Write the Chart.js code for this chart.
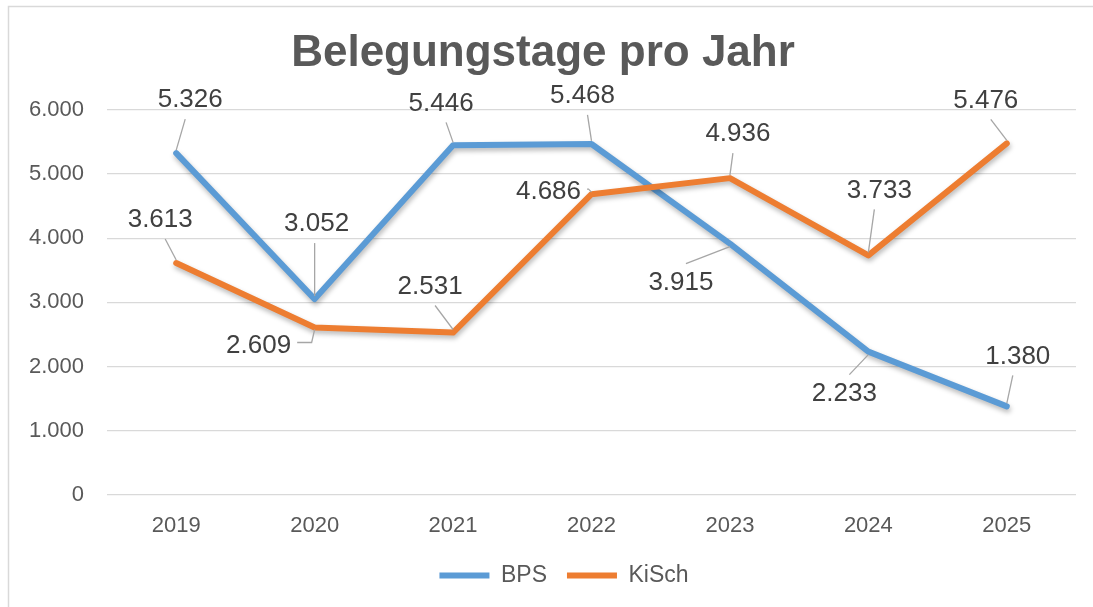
<!DOCTYPE html>
<html>
<head>
<meta charset="utf-8">
<script src="https://cdn.jsdelivr.net/npm/chart.js@4"></script>
<style>
  html, body { margin: 0; padding: 0; background: #fff; }
  #wrap { width: 1093px; height: 607px; }
</style>
</head>
<body>
<div id="wrap"><canvas id="lineChart" width="1093" height="607"></canvas></div>
<script>
// datos
const years = ["2019", "2020", "2021", "2022", "2023", "2024", "2025"];
const bps = [5326, 3052, 5446, 5468, 3915, 2233, 1380];
const kisch = [3613, 2609, 2531, 4686, 4936, 3733, 5476];
const yTicks = [0, 1000, 2000, 3000, 4000, 5000, 6000];

// where each value label sits, relative to its point (px)
const bpsLabelOffset = [[14, -53], [2, -75], [-12, -42], [-9, -48], [-49, 39], [-24, 42], [11, -50]];
const kischLabelOffset = [[-16, -43], [-56, 18], [-23, -46], [-43, -2], [8, -44], [11, -65], [-21, -43]];

const fmt = v => String(v).replace(/\B(?=(\d{3})+(?!\d))/g, '.');
const FONT = "'Liberation Sans', Arial, sans-serif";

// frame round the chart
const frame = {
  id: 'frame',
  beforeDraw(chart) {
    const c = chart.ctx;
    c.save();
    c.strokeStyle = '#d9d9d9';
    c.lineWidth = 1.5;
    c.beginPath();
    c.moveTo(8.5, 700);
    c.lineTo(8.5, 6.5);
    c.lineTo(1093, 6.5);
    c.stroke();
    c.restore();
  },
  afterLayout(chart) {
    // legend sits a little right of centre
    chart.legend.left += 21;
    chart.legend.right += 21;
  }
};

// soft shadow under the lines
const shadow = {
  id: 'shadow',
  beforeDatasetDraw(chart) {
    const c = chart.ctx;
    c.save();
    c.shadowColor = 'rgba(0,0,0,0.28)';
    c.shadowBlur = 5;
    c.shadowOffsetX = 1;
    c.shadowOffsetY = 3;
  },
  afterDatasetDraw(chart) {
    chart.ctx.restore();
  }
};

// value labels with leader lines
const valueLabels = {
  id: 'valueLabels',
  afterDatasetsDraw(chart) {
    const c = chart.ctx;
    c.save();
    c.font = '26px ' + FONT;
    c.textAlign = 'center';
    c.textBaseline = 'middle';
    chart.data.datasets.forEach((ds, di) => {
      const meta = chart.getDatasetMeta(di);
      const offs = ds.labelOffset;
      meta.data.forEach((pt, i) => {
        const lx = pt.x + offs[i][0];
        const ly = pt.y + offs[i][1];
        const txt = fmt(ds.data[i]);
        const w = c.measureText(txt).width;
        c.strokeStyle = '#a6a6a6';
        c.lineWidth = 1.3;
        c.beginPath();
        if (Math.abs(offs[i][1]) < 25) {
          // bent leader beside the label
          const sx = lx + (offs[i][0] < 0 ? 1 : -1) * (w / 2 + 6);
          const ex = pt.x + (offs[i][0] < 0 ? -3 : 3);
          c.moveTo(sx, ly - 3);
          c.lineTo(ex, ly - 3);
          c.lineTo(pt.x, pt.y + (offs[i][1] > 0 ? 2 : -2));
        } else {
          const dir = offs[i][1] < 0 ? 1 : -1;
          const sx = lx + Math.max(-5, Math.min(5, -offs[i][0]));
          c.moveTo(sx, ly + dir * 19);
          c.lineTo(pt.x, pt.y - dir * 3);
        }
        c.stroke();
        c.fillStyle = '#404040';
        c.fillText(txt, lx, ly);
      });
    });
    c.restore();
  }
};

const ctx = document.getElementById('lineChart').getContext('2d');

new Chart(ctx, {
  type: 'line',
  data: {
    labels: years,
    datasets: [{
      label: "BPS",
      data: bps,
      labelOffset: bpsLabelOffset,
      borderColor: "#5B9BD5",
      backgroundColor: "#5B9BD5",
      borderWidth: 6,
      borderCapStyle: 'round',
      borderJoinStyle: 'round',
      tension: 0,
      pointRadius: 0,
      order: 1
    }, {
      label: "KiSch",
      data: kisch,
      labelOffset: kischLabelOffset,
      borderColor: "#ED7D31",
      backgroundColor: "#ED7D31",
      borderWidth: 6,
      borderCapStyle: 'round',
      borderJoinStyle: 'round',
      tension: 0,
      pointRadius: 0,
      order: 0
    }]
  },
  options: {
    responsive: false,
    animation: false,
    layout: { padding: { left: 10, right: 17, top: 0, bottom: 10 } },
    plugins: {
      title: {
        display: true,
        text: "Belegungstage pro Jahr",
        color: "#595959",
        font: { family: FONT, size: 44, weight: 'bold' },
        padding: { top: 27, bottom: 30 }
      },
      legend: {
        position: 'bottom',
        reverse: true,
        labels: {
          usePointStyle: true,
          pointStyle: 'line',
          pointStyleWidth: 50,
          padding: 20,
          color: "#595959",
          font: { family: FONT, size: 23 }
        }
      },
      tooltip: { enabled: false }
    },
    scales: {
      x: {
        offset: true,
        grid: { display: false },
        border: { display: false },
        ticks: { color: "#595959", padding: 10, font: { family: FONT, size: 22 } },
        afterFit(scale) { scale.height = 49; }
      },
      y: {
        min: 0,
        max: 6000,
        afterBuildTicks(scale) { scale.ticks = yTicks.map(v => ({ value: v })); },
        grid: { color: "#d9d9d9", lineWidth: 1.2, drawTicks: false },
        border: { display: false },
        ticks: {
          color: "#595959",
          padding: 23,
          font: { family: FONT, size: 22 },
          callback: v => fmt(v)
        },
        afterFit(scale) { scale.width = 97; }
      }
    }
  },
  plugins: [frame, shadow, valueLabels]
});
</script>
</body>
</html>
